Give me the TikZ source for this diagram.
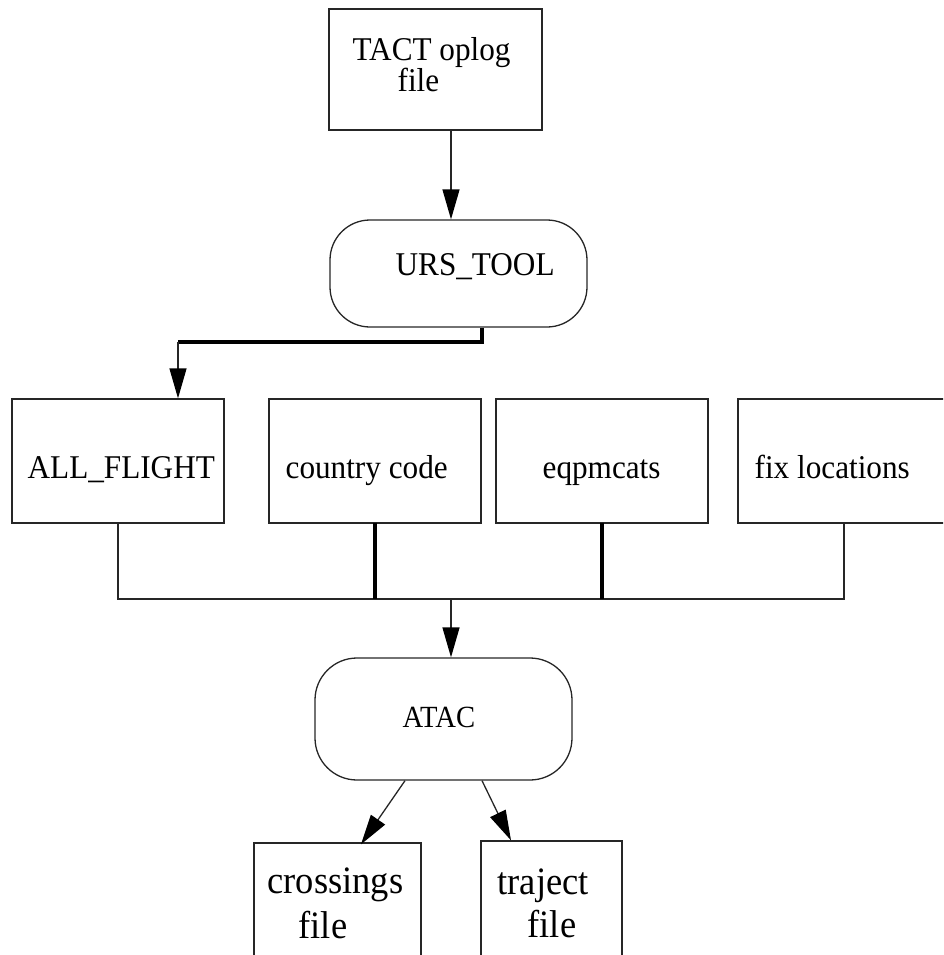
\documentclass[tikz,border=0pt]{standalone}
\usepackage{graphicx}
\usepackage{fontspec}
\setmainfont{Liberation Serif}
\usetikzlibrary{arrows.meta}
% slightly condensed serif lettering
\newcommand{\tallset}[1]{\scalebox{0.94}[1]{#1}}
\begin{document}
\begin{tikzpicture}[x=1pt,y=-1pt,
  line width=1.3pt,
  box/.style={draw=black!85, line width=1.3pt, minimum width=#1, inner sep=0pt},
  proc/.style={draw=black!85, line width=1.3pt, rounded corners=40pt, minimum width=257pt, inner sep=0pt},
  lbl/.style={anchor=base west, inner sep=0pt, font=\fontsize{33.2}{38}\selectfont},
  biglbl/.style={anchor=base west, inner sep=0pt, font=\fontsize{38.8}{44}\selectfont},
  arr/.style={draw=black!85, line width=1.3pt, -{Triangle[length=30pt,width=17pt,color=black]}},
  wire/.style={draw=black!85, line width=1.3pt},
  heavy/.style={draw=black, line width=4pt}]
\useasboundingbox (0,0) rectangle (943,955);
\clip (0,0) rectangle (943,955);

% boxes
\node[box=213pt, minimum height=121pt] (tact) at (435.5,69.5) {};
\node[proc, minimum height=107pt] (urs) at (458.5,273.5) {};
\node[box=212pt, minimum height=124pt] (allf) at (118,461) {};
\node[box=212pt, minimum height=124pt] (cc) at (375,461) {};
\node[box=212pt, minimum height=124pt] (eq) at (602,461) {};
\node[box=212pt, minimum height=124pt] (fix) at (844,461) {};
\node[proc, minimum height=122pt, rounded corners=42pt] (atac) at (443.5,719) {};
\node[box=167pt, minimum height=140pt] (cross) at (337.5,913) {};
\node[box=141pt, minimum height=140pt] (traj) at (551.5,911) {};

% labels
\node[lbl] (tactA) at (352,61) {\tallset{TACT oplog}};
\node[lbl] (tactB) at (397,92) {\tallset{file}};
\node[lbl] (ursT) at (395,275) {\tallset{URS\_TOOL}};
\node[lbl] (allfT) at (27,478) {\tallset{ALL\_FLIGHT}};
\node[lbl] (ccT) at (285,478) {\tallset{country code}};
\node[lbl] (eqT) at (542,478) {\tallset{eqpmcats}};
\node[lbl] (fixT) at (754,478) {\tallset{fix locations}};
\node[anchor=base west, inner sep=0pt, font=\fontsize{30.8}{36}\selectfont] (atacT) at (402,727) {\scalebox{0.93}[1]{ATAC}};
\node[biglbl] (crossA) at (267,893) {\tallset{crossings}};
\node[biglbl] (crossB) at (298,938) {\tallset{file}};
\node[biglbl] (trajA) at (497,894) {\tallset{traject}};
\node[biglbl] (trajB) at (527,937) {\tallset{file}};

% connectors
\draw[arr] ([xshift=15.5pt]tact.south) -- ([xshift=-7.5pt]urs.north);
\coordinate (bend) at (178,342);
\draw[heavy] ([xshift=23.5pt]urs.south) |- (bend);
\draw[arr] (bend) -- (bend |- allf.north);
\coordinate (bus) at (451,599);
\draw[wire] (allf.south) |- (bus) -| (fix.south);
\draw[heavy] ([yshift=1pt]cc.south) -- (cc.south |- bus);
\draw[heavy] ([yshift=1pt]eq.south) -- (eq.south |- bus);
\draw[arr] (bus) -- (bus |- atac.north);
\draw[arr] ([xshift=-38.5pt]atac.south) -- ([xshift=23.5pt,yshift=-2pt]cross.north);
\draw[arr] ([xshift=38.5pt]atac.south) -- ([xshift=-40.5pt]traj.north);
\end{tikzpicture}
\end{document}
